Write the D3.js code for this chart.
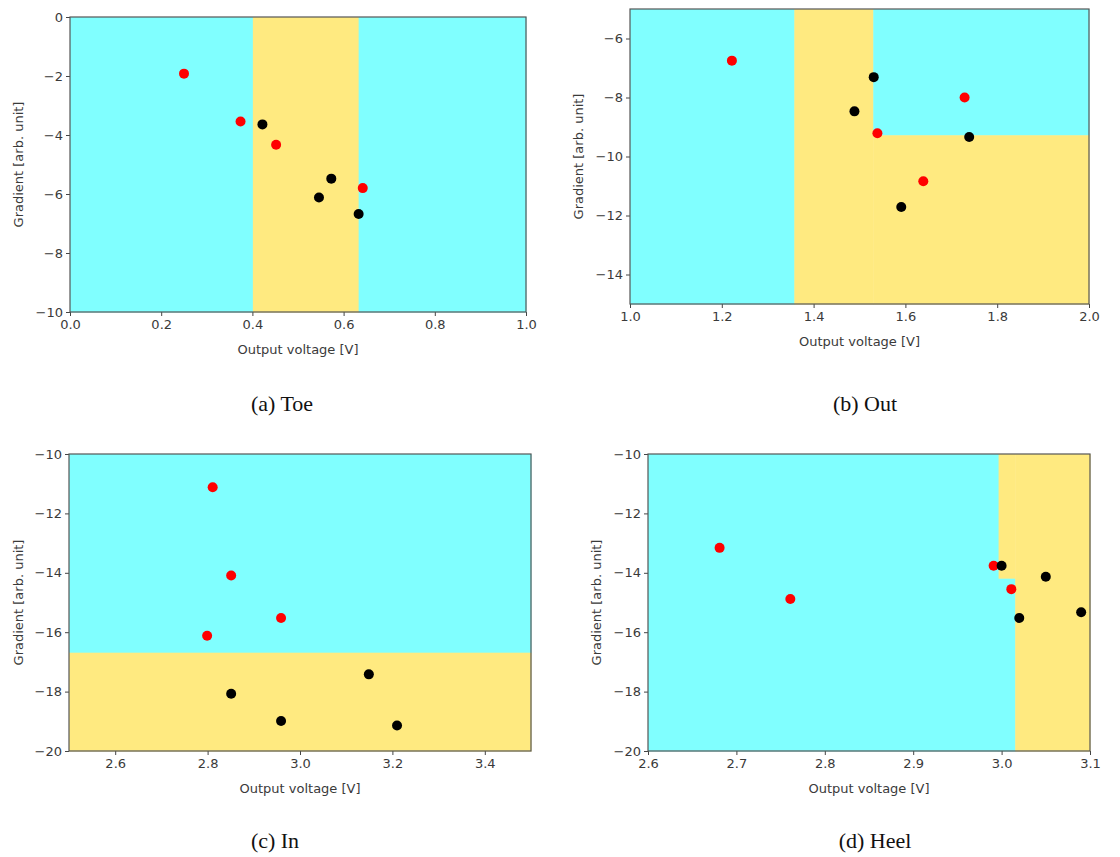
<!DOCTYPE html>
<html>
<head>
<meta charset="utf-8">
<script src="https://cdn.jsdelivr.net/npm/d3@7"></script>
<style>
  html, body { margin: 0; padding: 0; background: #fff; }
  svg { display: block; }
</style>
</head>
<body>
<svg id="chart" width="1120" height="857"></svg>
<script>
// ---------------- DATA ----------------
const panelNames = ["(a) Toe", "(b) Out", "(c) In", "(d) Heel"];
const xLabel = "Output voltage [V]";
const yLabel = "Gradient [arb. unit]";

const xDomains = [[0, 1], [1, 2], [2.5, 3.5], [2.6, 3.1]];
const yDomains = [[-10, 0], [-15, -5], [-20, -10], [-20, -10]];

const xTicksA = [0, 0.2, 0.4, 0.6, 0.8, 1.0];
const xTicksB = [1.0, 1.2, 1.4, 1.6, 1.8, 2.0];
const xTicksC = [2.6, 2.8, 3.0, 3.2, 3.4];
const xTicksD = [2.6, 2.7, 2.8, 2.9, 3.0, 3.1];
const yTicksA = [0, -2, -4, -6, -8, -10];
const yTicksB = [-6, -8, -10, -12, -14];
const yTicksC = [-10, -12, -14, -16, -18, -20];
const yTicksD = [-10, -12, -14, -16, -18, -20];

// red points [x, y]
const redA = [[0.250, -1.92], [0.374, -3.54], [0.452, -4.33], [0.642, -5.80]];
const redB = [[1.222, -6.75], [1.539, -9.21], [1.729, -8.00], [1.639, -10.84]];
const redC = [[2.811, -11.12], [2.851, -14.09], [2.959, -15.52], [2.799, -16.12]];
const redD = [[2.681, -13.16], [2.761, -14.88], [2.991, -13.76], [3.011, -14.55]];

// black points [x, y]
const blackA = [[0.422, -3.64], [0.573, -5.48], [0.546, -6.12], [0.633, -6.68]];
const blackB = [[1.531, -7.31], [1.489, -8.47], [1.739, -9.34], [1.591, -11.71]];
const blackC = [[2.851, -18.07], [2.959, -18.99], [3.149, -17.42], [3.210, -19.14]];
const blackD = [[3.000, -13.76], [3.050, -14.13], [3.020, -15.52], [3.090, -15.33]];

// decision regions [x0, x1, y0, y1, class] (class 0 = cyan, 1 = yellow)
const regionsA = [[0, 0.401, -10, 0, 0], [0.401, 0.633, -10, 0, 1], [0.633, 1, -10, 0, 0]];
const regionsB = [[1, 1.358, -15, -5, 0], [1.358, 1.530, -15, -5, 1],
                  [1.530, 2, -9.28, -5, 0], [1.530, 2, -15, -9.28, 1]];
const regionsC = [[2.5, 3.5, -16.69, -10, 0], [2.5, 3.5, -20, -16.69, 1]];
const regionsD = [[2.6, 2.9966, -20, -10, 0], [2.9966, 3.0154, -20, -14.18, 0],
                  [2.9966, 3.0154, -14.18, -10, 1], [3.0154, 3.1, -20, -10, 1]];

// ---------------- LAYOUT ----------------
const boxes = [
  {left: 70, right: 526, top: 17, bottom: 312, ylx: 18, capx: 282, capy: 411},
  {left: 630, right: 1089, top: 9, bottom: 304, ylx: 578, capx: 865, capy: 411},
  {left: 69, right: 531, top: 454, bottom: 751, ylx: 18, capx: 275, capy: 848},
  {left: 648, right: 1090, top: 454, bottom: 751, ylx: 596, capx: 875, capy: 848}
];
const xTicksAll = [xTicksA, xTicksB, xTicksC, xTicksD];
const yTicksAll = [yTicksA, yTicksB, yTicksC, yTicksD];
const redAll = [redA, redB, redC, redD];
const blackAll = [blackA, blackB, blackC, blackD];
const regionsAll = [regionsA, regionsB, regionsC, regionsD];
const regionColors = ["#80ffff", "#ffea80"];
const textColor = "#3a3a3a";
const fmtMinus = s => s.replace("-", "\u2212");

const svg = d3.select("#chart");
svg.append("rect").attr("width", 1120).attr("height", 857).attr("fill", "#fff");

boxes.forEach((b, i) => {
  const x = d3.scaleLinear().domain(xDomains[i]).range([b.left, b.right]);
  const y = d3.scaleLinear().domain(yDomains[i]).range([b.bottom, b.top]);
  const g = svg.append("g");

  g.selectAll("rect.region").data(regionsAll[i]).enter().append("rect")
    .attr("class", "region")
    .attr("x", d => x(d[0]))
    .attr("width", d => x(d[1]) - x(d[0]) + 0.5)
    .attr("y", d => y(d[3]))
    .attr("height", d => y(d[2]) - y(d[3]) + 0.5)
    .attr("fill", d => regionColors[d[4]]);

  const xAxis = d3.axisBottom(x).tickValues(xTicksAll[i]).tickSizeOuter(0).tickSize(4).tickPadding(4)
    .tickFormat(d => d3.format(".1f")(d));
  const yAxis = d3.axisLeft(y).tickValues(yTicksAll[i]).tickSizeOuter(0).tickSize(4).tickPadding(3)
    .tickFormat(d => fmtMinus(d3.format("d")(d)));

  const gx = g.append("g").attr("transform", `translate(0,${b.bottom})`).call(xAxis);
  const gy = g.append("g").attr("transform", `translate(${b.left},0)`).call(yAxis);
  [gx, gy].forEach(ax => {
    ax.select(".domain").remove();
    ax.selectAll("line").attr("stroke", "#444").attr("stroke-width", 1);
    ax.selectAll("text").attr("fill", textColor)
      .style("font-family", "'DejaVu Sans', sans-serif").style("font-size", "13px");
  });

  g.append("rect")
    .attr("x", b.left).attr("y", b.top)
    .attr("width", b.right - b.left).attr("height", b.bottom - b.top)
    .attr("fill", "none").attr("stroke", "#555").attr("stroke-width", 1.2);

  g.selectAll("circle.red").data(redAll[i]).enter().append("circle")
    .attr("class", "red").attr("cx", d => x(d[0])).attr("cy", d => y(d[1]))
    .attr("r", 5).attr("fill", "#ff0000");
  g.selectAll("circle.black").data(blackAll[i]).enter().append("circle")
    .attr("class", "black").attr("cx", d => x(d[0])).attr("cy", d => y(d[1]))
    .attr("r", 5).attr("fill", "#000");

  g.append("text")
    .attr("x", (b.left + b.right) / 2).attr("y", b.bottom + 42)
    .attr("text-anchor", "middle").attr("fill", textColor)
    .style("font-family", "'DejaVu Sans', sans-serif").style("font-size", "13px")
    .text(xLabel);

  g.append("text")
    .attr("transform", `translate(${b.ylx},${(b.top + b.bottom) / 2}) rotate(-90)`)
    .attr("text-anchor", "middle").attr("dy", "0.35em").attr("fill", textColor)
    .style("font-family", "'DejaVu Sans', sans-serif").style("font-size", "13px")
    .text(yLabel);

  svg.append("text")
    .attr("x", b.capx).attr("y", b.capy)
    .attr("text-anchor", "middle").attr("fill", "#111")
    .style("font-family", "'Liberation Serif', 'Times New Roman', serif").style("font-size", "22px")
    .text(panelNames[i]);
});
</script>
</body>
</html>
